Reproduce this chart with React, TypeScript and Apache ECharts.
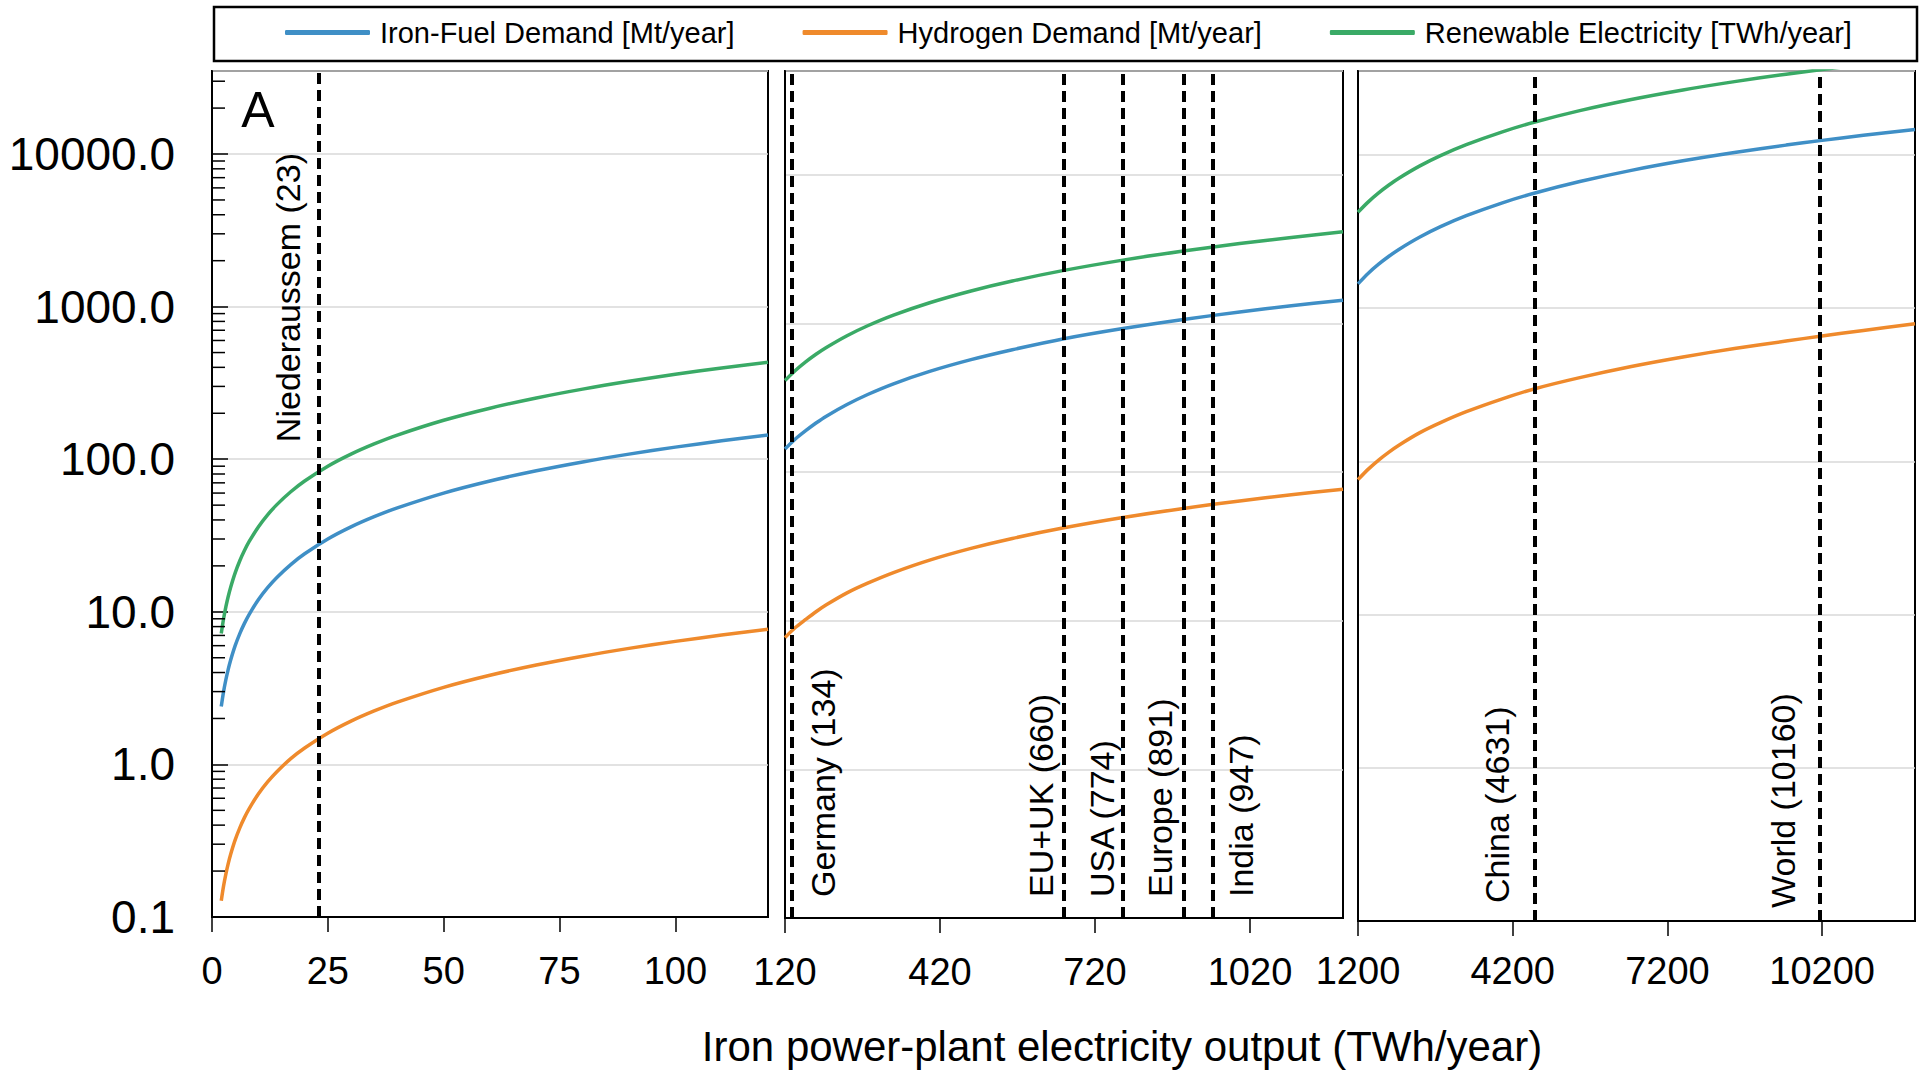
import React, { useEffect, useRef } from "react";
import * as echarts from "echarts";

// ---------- data ----------
const SERIES_NAMES = [
  "Iron-Fuel Demand [Mt/year]",
  "Hydrogen Demand [Mt/year]",
  "Renewable Electricity [TWh/year]",
];

// Panel 1 (0 – 120 TWh/year)
const X1 = [2, 2.5, 3, 3.5, 4, 5, 6, 7, 8, 10, 12, 14, 17, 20, 25, 30, 35, 40, 50, 60, 70, 80, 90, 100, 110, 120];
const IRON1 = [2.4, 3.0, 3.6, 4.2, 4.8, 6.0, 7.2, 8.4, 9.6, 12, 14.4, 16.8, 20.4, 24, 30, 36, 42, 48, 60, 72, 84, 96, 108, 120, 132, 144];
const H2_1 = [0.128, 0.16, 0.192, 0.224, 0.256, 0.32, 0.384, 0.448, 0.512, 0.64, 0.768, 0.896, 1.09, 1.28, 1.6, 1.92, 2.24, 2.56, 3.2, 3.84, 4.48, 5.12, 5.76, 6.4, 7.04, 7.68];
const REN1 = [7.2, 9, 10.8, 12.6, 14.4, 18, 21.6, 25.2, 28.8, 36, 43.2, 50.4, 61.2, 72, 90, 108, 126, 144, 180, 216, 252, 288, 324, 360, 396, 432];

// Panel 2 (120 – 1200 TWh/year)
const X2 = [120, 140, 160, 180, 200, 240, 280, 330, 400, 480, 560, 660, 774, 891, 1000, 1100, 1200];
const IRON2 = [143, 167, 190, 214, 238, 285, 333, 393, 476, 571, 666, 790, 925, 1065, 1195, 1315, 1435];
const H2_2 = [7.7, 9.0, 10.2, 11.5, 12.8, 15.4, 17.9, 21.1, 25.6, 30.7, 35.8, 42.2, 49.5, 57, 64, 70.4, 76.8];
const REN2 = [414, 483, 552, 621, 690, 828, 966, 1139, 1380, 1656, 1932, 2277, 2670, 3074, 3450, 3795, 4140];

// Panel 3 (1200 – 12000 TWh/year)
const X3 = [1200, 1400, 1600, 1800, 2000, 2400, 2800, 3300, 4000, 4631, 5500, 6500, 7500, 8500, 9500, 10160, 11000, 12000];
const IRON3 = [1440, 1690, 1935, 2180, 2425, 2910, 3400, 4010, 4870, 5640, 6700, 7930, 9150, 10370, 11590, 12400, 13420, 14640];
const H2_3 = [76, 89, 102, 115, 128, 154, 179, 211, 256, 298, 352, 416, 480, 545, 610, 655, 715, 790];
const REN3 = [4230, 4940, 5650, 6360, 7070, 8480, 9900, 11670, 14150, 16400, 19470, 23010, 26550, 30090, 33630, 35970, 38940, 42480];

// Reference markers (name, output in TWh/year)
const MARKERS1 = [{ name: "Niederaussem", value: 23 }];
const MARKERS2 = [
  { name: "Germany", value: 134 },
  { name: "EU+UK", value: 660 },
  { name: "USA", value: 774 },
  { name: "Europe", value: 891 },
  { name: "India", value: 947 },
];
const MARKERS3 = [
  { name: "China", value: 4631 },
  { name: "World", value: 10160 },
];

// Axis ranges / ticks
const X_RANGES = [
  { min: 0, max: 120, interval: 25 },
  { min: 120, max: 1200, interval: 300 },
  { min: 1200, max: 12000, interval: 3000 },
];
const Y_RANGES = [
  { min: 0.1, max: 35000 },
  { min: 0.1, max: 50000 },
  { min: 0.1, max: 35300 },
];
const MINOR_TICKS = [
  0.2, 0.3, 0.4, 0.5, 0.6, 0.7, 0.8, 0.9,
  2, 3, 4, 5, 6, 7, 8, 9,
  20, 30, 40, 50, 60, 70, 80, 90,
  200, 300, 400, 500, 600, 700, 800, 900,
  2000, 3000, 4000, 5000, 6000, 7000, 8000, 9000,
  20000, 30000,
];

const X_TITLE = "Iron power-plant electricity output (TWh/year)";
const PANEL_LETTER = "A";

// ---------- styles ----------
const FONT = "Liberation Sans, Arial, Helvetica, sans-serif";
const COLORS = ["#3f8fc6", "#ef8a2c", "#3aaa66"];

// label placement per marker: [position, alongDistance, perpendicularDistance]
const MARKER_LABEL_POS: Record<string, [string, number, number]> = {
  Niederaussem: ["insideEndTop", 82, 14],
  Germany: ["insideStartBottom", 21, 14],
  "EU+UK": ["insideStartTop", 21, 6],
  USA: ["insideStartTop", 21, 4],
  Europe: ["insideStartTop", 21, 6],
  India: ["insideStartBottom", 21, 12],
  China: ["insideStartTop", 18, 21],
  World: ["insideStartTop", 13, 20],
};

const GRIDS = [
  { left: 212, top: 71, width: 556, height: 846 },
  { left: 785, top: 71, width: 558, height: 847 },
  { left: 1358, top: 71, width: 557, height: 850 },
];
const X_LABEL_MARGINS = [35, 35, 31];

function zip(xs: number[], ys: number[]) {
  return xs.map((x, i) => [x, ys[i]]);
}

export default function App() {
  const ref = useRef<HTMLDivElement>(null);

  useEffect(() => {
    if (!ref.current) return;
    const chart = echarts.init(ref.current, undefined, { renderer: "svg" });

    const panelData = [
      { x: X1, ys: [IRON1, H2_1, REN1], markers: MARKERS1 },
      { x: X2, ys: [IRON2, H2_2, REN2], markers: MARKERS2 },
      { x: X3, ys: [IRON3, H2_3, REN3], markers: MARKERS3 },
    ];

    const dash = { color: "#000", width: 4, type: [11, 6] };

    const series: any[] = [];
    panelData.forEach((p, gi) => {
      p.ys.forEach((ys, si) => {
        const s: any = {
          name: SERIES_NAMES[si],
          type: "line",
          xAxisIndex: gi,
          yAxisIndex: gi,
          data: zip(p.x, ys),
          showSymbol: false,
          symbol: "none",
          smooth: 0.3,
          color: COLORS[si],
          lineStyle: { color: COLORS[si], width: 3.5 },
          z: 3,
        };
        if (si === 0) {
          s.markLine = {
            silent: true,
            symbol: ["none", "none"],
            animation: false,
            lineStyle: dash,
            data: p.markers.map((m) => {
              const cfg = MARKER_LABEL_POS[m.name];
              return {
                xAxis: m.value,
                lineStyle: dash,
                label: {
                  show: true,
                  formatter: `${m.name} (${m.value})`,
                  position: cfg[0],
                  distance: [cfg[1], cfg[2]],
                  fontSize: 34,
                  fontFamily: FONT,
                  color: "#000",
                },
              };
            }),
          };
        }
        series.push(s);
      });
    });

    // minor (log) ticks on the first panel's y axis
    series.push({
      type: "custom",
      xAxisIndex: 0,
      yAxisIndex: 0,
      silent: true,
      z: 4,
      data: MINOR_TICKS.map((v) => [X_RANGES[0].min, v]),
      renderItem: (params: any, api: any) => {
        const p = api.coord([api.value(0), api.value(1)]);
        return {
          type: "line",
          shape: { x1: p[0], y1: p[1], x2: p[0] + 13, y2: p[1] },
          style: { stroke: "#000", lineWidth: 1.5 },
        };
      },
    });

    const option: any = {
      animation: false,
      backgroundColor: "#fff",
      textStyle: { fontFamily: FONT },
      legend: {
        data: SERIES_NAMES,
        left: 280,
        top: 13,
        icon: "roundRect",
        itemWidth: 85,
        itemHeight: 5,
        itemGap: 68,
        selectedMode: false,
        textStyle: { fontSize: 29, color: "#000", fontFamily: FONT, padding: [0, 0, 0, 5] },
      },
      grid: GRIDS.map((g) => ({
        ...g,
        show: true,
        borderColor: "#000",
        borderWidth: 2,
        backgroundColor: "transparent",
        containLabel: false,
        outerBoundsMode: "none",
      })),
      xAxis: X_RANGES.map((r, i) => ({
        type: "value",
        gridIndex: i,
        min: r.min,
        max: r.max,
        interval: r.interval,
        axisLine: { show: true, lineStyle: { color: "#000", width: 2 } },
        axisTick: { show: true, inside: false, length: 15, lineStyle: { color: "#000", width: 1.5 } },
        axisLabel: {
          show: true,
          fontSize: 38,
          color: "#000",
          fontFamily: FONT,
          margin: X_LABEL_MARGINS[i],
          showMinLabel: true,
          showMaxLabel: false,
          hideOverlap: false,
          formatter: (v: number) => String(Math.round(v)),
        },
        splitLine: { show: false },
      })),
      yAxis: Y_RANGES.map((r, i) => ({
        type: "log",
        logBase: 10,
        gridIndex: i,
        min: r.min,
        max: r.max,
        axisLine: { show: true, lineStyle: { color: "#000", width: 2 } },
        axisTick: {
          show: i === 0,
          inside: true,
          length: 16,
          lineStyle: { color: "#000", width: 1.5 },
        },
        axisLabel: {
          show: i === 0,
          fontSize: 46,
          color: "#000",
          fontFamily: FONT,
          margin: 37,
          showMaxLabel: false,
          formatter: (v: number) => Number(v).toFixed(1),
        },
        splitLine: { show: true, lineStyle: { color: "#d9d9d9", width: 1.5 } },
      })),
      graphic: [
        {
          type: "rect",
          shape: { x: 214, y: 7, width: 1703, height: 54 },
          style: { fill: "none", stroke: "#000", lineWidth: 2.5 },
          silent: true,
        },
        {
          type: "text",
          x: 258,
          y: 110,
          style: {
            text: PANEL_LETTER,
            fontSize: 50,
            fontFamily: FONT,
            fill: "#000",
            textAlign: "center",
            textVerticalAlign: "middle",
          },
          z: 10,
        },
        {
          type: "text",
          x: 1122,
          y: 1046,
          style: {
            text: X_TITLE,
            fontSize: 42,
            fontFamily: FONT,
            fill: "#000",
            textAlign: "center",
            textVerticalAlign: "middle",
          },
        },
      ],
      series,
    };

    chart.setOption(option);
    return () => chart.dispose();
  }, []);

  return (
    <div
      ref={ref}
      style={{ position: "fixed", left: 0, top: 0, width: "1921px", height: "1074px", background: "#fff" }}
    />
  );
}
